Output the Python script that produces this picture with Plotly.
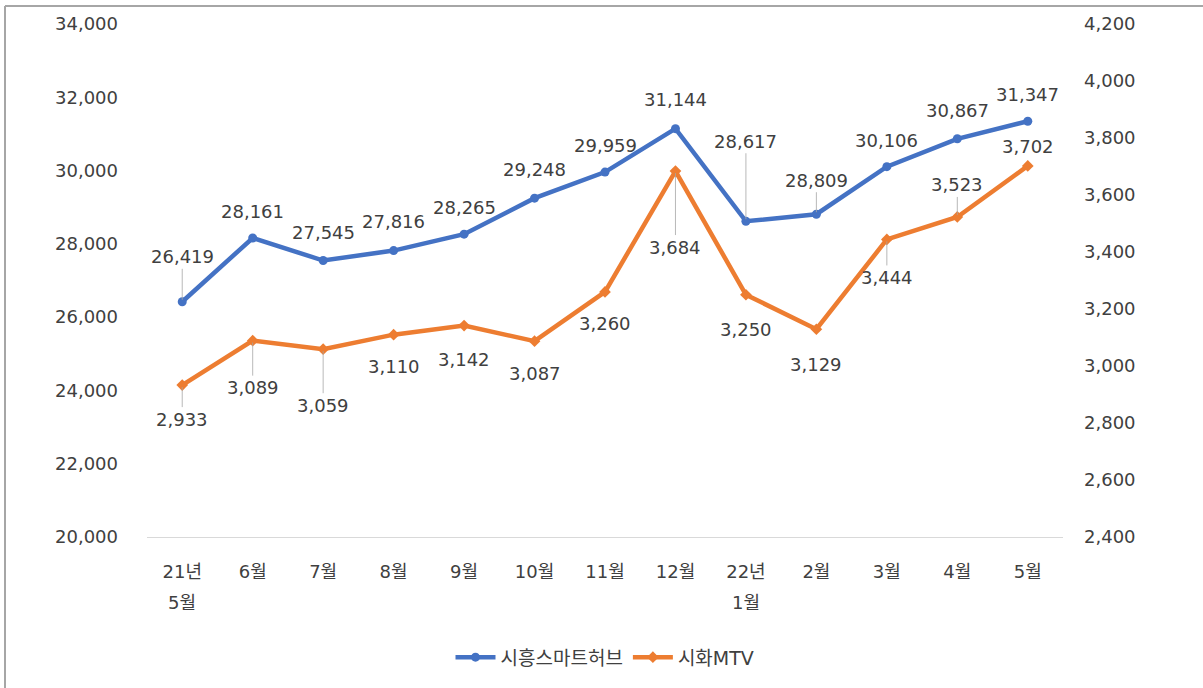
import plotly.graph_objects as go

categories = ["21년 5월", "6월", "7월", "8월", "9월", "10월", "11월", "12월",
              "22년 1월", "2월", "3월", "4월", "5월"]
tick_top = ["21년", "6월", "7월", "8월", "9월", "10월", "11월", "12월",
            "22년", "2월", "3월", "4월", "5월"]
tick_bottom = ["5월", "", "", "", "", "", "", "", "1월", "", "", "", ""]
siheung = [26419, 28161, 27545, 27816, 28265, 29248, 29959, 31144,
           28617, 28809, 30106, 30867, 31347]
sihwa = [2933, 3089, 3059, 3110, 3142, 3087, 3260, 3684,
         3250, 3129, 3444, 3523, 3702]

# label pixel offsets (negative = above) and whether a leader line is drawn
blue_off = [-45, -26, -28, -29, -27, -29, -27, -29, -80, -34, -26, -28, -27]
blue_lead = [True, False, False, False, False, False, False, False, True, True, False, False, False]
orange_off = [34, 47, 56, 32, 34, 32, 32, 76, 35, 35, 38, -32, -19]
orange_lead = [True, True, True, False, False, False, False, True, False, False, True, True, False]

BLUE = "#4472C4"
ORANGE = "#ED7D31"
TXT = "#404040"
FONT = "DejaVu Sans, Noto Sans CJK KR"

fig = go.Figure()
fig.add_trace(go.Scatter(
    x=categories, y=siheung, name="시흥스마트허브", mode="lines+markers",
    line=dict(color=BLUE, width=4.5), marker=dict(symbol="circle", size=9, color=BLUE),
    yaxis="y"))
fig.add_trace(go.Scatter(
    x=categories, y=sihwa, name="시화MTV", mode="lines+markers",
    line=dict(color=ORANGE, width=4.5), marker=dict(symbol="diamond", size=9, color=ORANGE),
    yaxis="y2"))

annotations = []
for xs, ys, offs, leads, yref in [(categories, siheung, blue_off, blue_lead, "y"),
                                   (categories, sihwa, orange_off, orange_lead, "y2")]:
    for xv, yv, off, lead in zip(xs, ys, offs, leads):
        common = dict(x=xv, y=yv, xref="x", yref=yref, text=f"{yv:,}",
                      font=dict(family=FONT, size=18, color=TXT))
        if lead:
            annotations.append(dict(**common, showarrow=True, arrowhead=0,
                                    arrowwidth=0.8, arrowcolor="#A6A6A6",
                                    ax=0, ay=off, standoff=2))
        else:
            annotations.append(dict(**common, showarrow=False, yshift=-off))

for xv, txt in zip(categories, tick_bottom):
    if txt:
        annotations.append(dict(x=xv, y=0, xref="x", yref="paper", text=txt,
                                showarrow=False, yanchor="middle", yshift=-65,
                                font=dict(family=FONT, size=18, color=TXT)))

fig.update_layout(
    width=1203, height=688,
    margin=dict(l=147, r=140, t=24, b=148),
    paper_bgcolor="white", plot_bgcolor="white",
    font=dict(family=FONT, size=18, color=TXT),
    showlegend=True,
    legend=dict(orientation="h", x=0.5, xanchor="center", y=-0.2345, yanchor="middle",
                font=dict(family=FONT, size=19, color=TXT), itemwidth=40,
                traceorder="normal"),
    xaxis=dict(showgrid=False, showline=True, linecolor="#D9D9D9", linewidth=1,
               ticks="", tickfont=dict(family=FONT, size=18, color=TXT),
               tickvals=categories, ticktext=tick_top,
               ticklabelstandoff=18, range=[-0.5, 12.5]),
    yaxis=dict(range=[20000, 34000], dtick=2000, tickformat=",", showgrid=False,
               zeroline=False, ticks="", ticklabelstandoff=28,
               tickfont=dict(family=FONT, size=18, color=TXT)),
    yaxis2=dict(range=[2400, 4200], dtick=200, tickformat=",", showgrid=False,
                zeroline=False, overlaying="y", side="right", ticks="",
                ticklabelstandoff=20,
                tickfont=dict(family=FONT, size=18, color=TXT)),
    annotations=annotations,
    shapes=[
        dict(type="line", xref="paper", yref="paper",
             x0=-142 / 916, x1=1.2, y0=(688 - 6 - 148) / 516, y1=(688 - 6 - 148) / 516,
             line=dict(color="#A6A6A6", width=2)),
        dict(type="line", xref="paper", yref="paper",
             x0=-142 / 916, x1=-142 / 916, y0=-0.3, y1=(688 - 6 - 148) / 516,
             line=dict(color="#A6A6A6", width=2)),
    ],
)

fig.write_html("out.html", config={"displayModeBar": False},
               post_script="document.body.style.margin='0';")
